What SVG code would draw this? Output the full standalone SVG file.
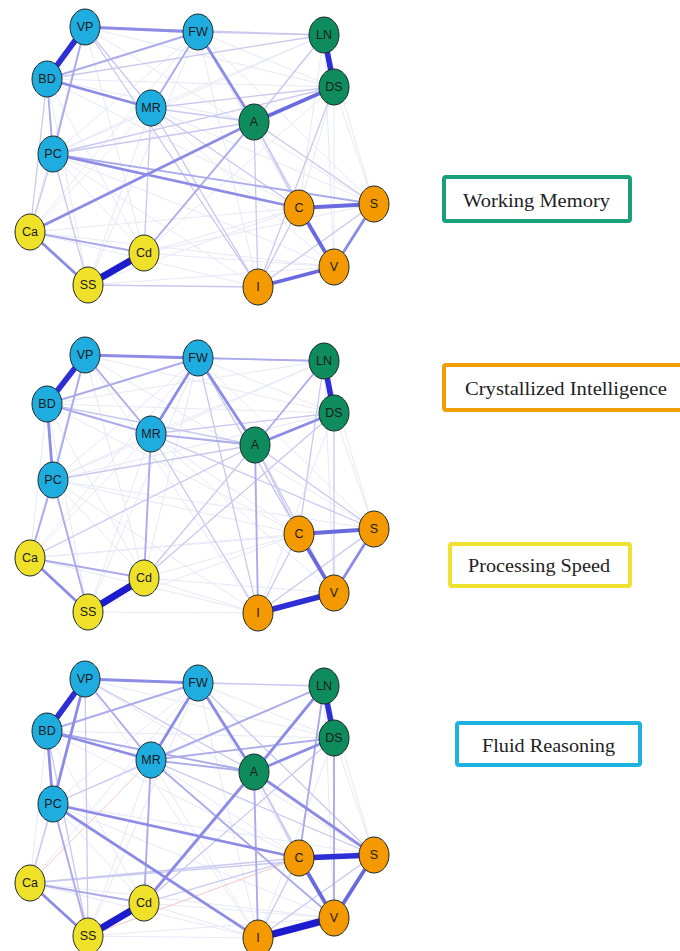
<svg xmlns="http://www.w3.org/2000/svg" width="680" height="951" viewBox="0 0 680 951">
<style>
  line { fill: none; stroke-linecap: round; }
  .e1 { stroke: #E8E8F8; stroke-width: 1; }
  .e2 { stroke: #C8C8F1; stroke-width: 1.3; }
  .e3 { stroke: #ABABEB; stroke-width: 1.9; }
  .e4 { stroke: #8C8CE6; stroke-width: 2.8; }
  .e5 { stroke: #6A6AE0; stroke-width: 3.8; }
  .e6 { stroke: #2E2ED6; stroke-width: 5.6; }
  .e7 { stroke: #1C1CCE; stroke-width: 7; }
  .r1 { stroke: #F2C9C2; stroke-width: 1; }
  .n ellipse { stroke: #1c2a2a; stroke-width: 1; }
  .fl ellipse { fill: #1FADE0; }
  .wm ellipse { fill: #0F8C5E; }
  .ci ellipse { fill: #F49A00; }
  .ps ellipse { fill: #EFE02A; }
  .n text { font-family: "Liberation Sans", Arial, sans-serif; font-size: 12.5px; fill: #1a1a1a; text-anchor: middle; }
  .leg rect { fill: #ffffff; stroke-width: 4; }
  .leg text { font-family: "Liberation Serif", "DejaVu Serif", serif; font-size: 19px; fill: #222222; }
</style>

<rect width="680" height="951" fill="#ffffff"/>

<!-- connectors, network 1 -->
<g id="edges-1">
  <line class="e1" x1="85" y1="27" x2="334" y2="87"/>
  <line class="e1" x1="85" y1="27" x2="374" y2="204"/>
  <line class="e1" x1="85" y1="27" x2="144" y2="253"/>
  <line class="e1" x1="85" y1="27" x2="30" y2="232"/>
  <line class="e1" x1="198" y1="32" x2="334" y2="87"/>
  <line class="e1" x1="198" y1="32" x2="53" y2="154"/>
  <line class="e1" x1="198" y1="32" x2="299" y2="208"/>
  <line class="e1" x1="198" y1="32" x2="374" y2="204"/>
  <line class="e1" x1="198" y1="32" x2="334" y2="267"/>
  <line class="e1" x1="198" y1="32" x2="258" y2="287"/>
  <line class="e1" x1="198" y1="32" x2="88" y2="285"/>
  <line class="e1" x1="198" y1="32" x2="30" y2="232"/>
  <line class="e1" x1="324" y1="35" x2="151" y2="108"/>
  <line class="e1" x1="324" y1="35" x2="53" y2="154"/>
  <line class="e1" x1="324" y1="35" x2="299" y2="208"/>
  <line class="e1" x1="324" y1="35" x2="374" y2="204"/>
  <line class="e1" x1="324" y1="35" x2="334" y2="267"/>
  <line class="e1" x1="324" y1="35" x2="144" y2="253"/>
  <line class="e1" x1="47" y1="79" x2="254" y2="122"/>
  <line class="e1" x1="47" y1="79" x2="334" y2="87"/>
  <line class="e1" x1="47" y1="79" x2="88" y2="285"/>
  <line class="e1" x1="47" y1="79" x2="144" y2="253"/>
  <line class="e1" x1="47" y1="79" x2="299" y2="208"/>
  <line class="e1" x1="334" y1="87" x2="299" y2="208"/>
  <line class="e1" x1="334" y1="87" x2="374" y2="204"/>
  <line class="e1" x1="334" y1="87" x2="334" y2="267"/>
  <line class="e1" x1="334" y1="87" x2="144" y2="253"/>
  <line class="e1" x1="151" y1="108" x2="53" y2="154"/>
  <line class="e1" x1="151" y1="108" x2="374" y2="204"/>
  <line class="e1" x1="151" y1="108" x2="334" y2="267"/>
  <line class="e1" x1="151" y1="108" x2="88" y2="285"/>
  <line class="e1" x1="151" y1="108" x2="30" y2="232"/>
  <line class="e1" x1="53" y1="154" x2="144" y2="253"/>
  <line class="e1" x1="53" y1="154" x2="334" y2="267"/>
  <line class="e1" x1="53" y1="154" x2="258" y2="287"/>
  <line class="e1" x1="30" y1="232" x2="258" y2="287"/>
  <line class="e1" x1="30" y1="232" x2="299" y2="208"/>
  <line class="e1" x1="30" y1="232" x2="334" y2="267"/>
  <line class="e1" x1="144" y1="253" x2="299" y2="208"/>
  <line class="e1" x1="144" y1="253" x2="334" y2="267"/>
  <line class="e1" x1="144" y1="253" x2="374" y2="204"/>
  <line class="e1" x1="88" y1="285" x2="299" y2="208"/>
  <line class="e1" x1="88" y1="285" x2="334" y2="267"/>

  <line class="e2" x1="85" y1="27" x2="151" y2="108"/>
  <line class="e2" x1="47" y1="79" x2="324" y2="35"/>
  <line class="e2" x1="151" y1="108" x2="254" y2="122"/>
  <line class="e2" x1="254" y1="122" x2="324" y2="35"/>
  <line class="e2" x1="254" y1="122" x2="374" y2="204"/>
  <line class="e2" x1="254" y1="122" x2="258" y2="287"/>
  <line class="e2" x1="254" y1="122" x2="299" y2="208"/>
  <line class="e2" x1="254" y1="122" x2="334" y2="267"/>
  <line class="e2" x1="258" y1="287" x2="374" y2="204"/>
  <line class="e2" x1="258" y1="287" x2="299" y2="208"/>
  <line class="e2" x1="151" y1="108" x2="334" y2="87"/>
  <line class="e2" x1="151" y1="108" x2="144" y2="253"/>
  <line class="e2" x1="53" y1="154" x2="30" y2="232"/>
  <line class="e2" x1="53" y1="154" x2="88" y2="285"/>
  <line class="e2" x1="151" y1="108" x2="258" y2="287"/>
  <line class="e2" x1="198" y1="32" x2="324" y2="35"/>
  <line class="e2" x1="85" y1="27" x2="324" y2="35"/>
  <line class="e2" x1="53" y1="154" x2="254" y2="122"/>
  <line class="e2" x1="53" y1="154" x2="334" y2="87"/>
  <line class="e2" x1="88" y1="285" x2="258" y2="287"/>
  <line class="e2" x1="334" y1="87" x2="258" y2="287"/>
  <line class="e2" x1="85" y1="27" x2="258" y2="287"/>
  <line class="e2" x1="151" y1="108" x2="299" y2="208"/>
  <line class="e2" x1="47" y1="79" x2="30" y2="232"/>

  <line class="e3" x1="144" y1="253" x2="254" y2="122"/>
  <line class="e3" x1="53" y1="154" x2="374" y2="204"/>
  <line class="e3" x1="198" y1="32" x2="151" y2="108"/>
  <line class="e3" x1="47" y1="79" x2="53" y2="154"/>
  <line class="e3" x1="85" y1="27" x2="53" y2="154"/>
  <line class="e3" x1="30" y1="232" x2="144" y2="253"/>
  <line class="e3" x1="47" y1="79" x2="198" y2="32"/>

  <line class="e4" x1="198" y1="32" x2="254" y2="122"/>
  <line class="e4" x1="374" y1="204" x2="334" y2="267"/>
  <line class="e4" x1="30" y1="232" x2="254" y2="122"/>
  <line class="e4" x1="47" y1="79" x2="151" y2="108"/>
  <line class="e4" x1="30" y1="232" x2="88" y2="285"/>
  <line class="e4" x1="85" y1="27" x2="198" y2="32"/>
  <line class="e4" x1="53" y1="154" x2="299" y2="208"/>

  <line class="e5" x1="254" y1="122" x2="334" y2="87"/>
  <line class="e5" x1="299" y1="208" x2="374" y2="204"/>
  <line class="e5" x1="299" y1="208" x2="334" y2="267"/>
  <line class="e5" x1="258" y1="287" x2="334" y2="267"/>

  <line class="e6" x1="85" y1="27" x2="47" y2="79"/>
  <line class="e6" x1="324" y1="35" x2="334" y2="87"/>
  <line class="e7" x1="88" y1="285" x2="144" y2="253"/>
</g>

<!-- connectors, network 2 -->
<g id="edges-2">
  <line class="e1" x1="85" y1="355" x2="334" y2="413"/>
  <line class="e1" x1="85" y1="355" x2="374" y2="529"/>
  <line class="e1" x1="85" y1="355" x2="144" y2="578"/>
  <line class="e1" x1="85" y1="355" x2="30" y2="558"/>
  <line class="e1" x1="85" y1="355" x2="258" y2="613"/>
  <line class="e1" x1="198" y1="358" x2="334" y2="413"/>
  <line class="e1" x1="198" y1="358" x2="53" y2="480"/>
  <line class="e1" x1="198" y1="358" x2="299" y2="534"/>
  <line class="e1" x1="198" y1="358" x2="374" y2="529"/>
  <line class="e1" x1="198" y1="358" x2="88" y2="612"/>
  <line class="e1" x1="198" y1="358" x2="30" y2="558"/>
  <line class="e1" x1="198" y1="358" x2="144" y2="578"/>
  <line class="e1" x1="324" y1="361" x2="151" y2="434"/>
  <line class="e1" x1="324" y1="361" x2="53" y2="480"/>
  <line class="e1" x1="324" y1="361" x2="374" y2="529"/>
  <line class="e1" x1="324" y1="361" x2="334" y2="593"/>
  <line class="e1" x1="324" y1="361" x2="47" y2="404"/>
  <line class="e1" x1="47" y1="404" x2="334" y2="413"/>
  <line class="e1" x1="47" y1="404" x2="30" y2="558"/>
  <line class="e1" x1="47" y1="404" x2="88" y2="612"/>
  <line class="e1" x1="47" y1="404" x2="144" y2="578"/>
  <line class="e1" x1="47" y1="404" x2="299" y2="534"/>
  <line class="e1" x1="334" y1="413" x2="374" y2="529"/>
  <line class="e1" x1="334" y1="413" x2="258" y2="613"/>
  <line class="e1" x1="334" y1="413" x2="53" y2="480"/>
  <line class="e1" x1="151" y1="434" x2="53" y2="480"/>
  <line class="e1" x1="151" y1="434" x2="334" y2="593"/>
  <line class="e1" x1="151" y1="434" x2="88" y2="612"/>
  <line class="e1" x1="151" y1="434" x2="30" y2="558"/>
  <line class="e1" x1="151" y1="434" x2="299" y2="534"/>
  <line class="e1" x1="53" y1="480" x2="144" y2="578"/>
  <line class="e1" x1="53" y1="480" x2="299" y2="534"/>
  <line class="e1" x1="53" y1="480" x2="374" y2="529"/>
  <line class="e1" x1="53" y1="480" x2="258" y2="613"/>
  <line class="e1" x1="30" y1="558" x2="258" y2="613"/>
  <line class="e1" x1="30" y1="558" x2="299" y2="534"/>
  <line class="e1" x1="30" y1="558" x2="374" y2="529"/>
  <line class="e1" x1="144" y1="578" x2="299" y2="534"/>
  <line class="e1" x1="144" y1="578" x2="334" y2="593"/>
  <line class="e1" x1="88" y1="612" x2="258" y2="613"/>
  <line class="e1" x1="88" y1="612" x2="299" y2="534"/>
  <line class="e1" x1="144" y1="578" x2="258" y2="613"/>

  <line class="e2" x1="47" y1="404" x2="255" y2="445"/>
  <line class="e2" x1="151" y1="434" x2="374" y2="529"/>
  <line class="e2" x1="151" y1="434" x2="258" y2="613"/>
  <line class="e2" x1="255" y1="445" x2="374" y2="529"/>
  <line class="e2" x1="255" y1="445" x2="299" y2="534"/>
  <line class="e2" x1="144" y1="578" x2="334" y2="413"/>
  <line class="e2" x1="144" y1="578" x2="255" y2="445"/>
  <line class="e2" x1="53" y1="480" x2="255" y2="445"/>
  <line class="e2" x1="198" y1="358" x2="258" y2="613"/>
  <line class="e2" x1="299" y1="534" x2="258" y2="613"/>
  <line class="e2" x1="374" y1="529" x2="258" y2="613"/>
  <line class="e2" x1="324" y1="361" x2="299" y2="534"/>
  <line class="e2" x1="334" y1="413" x2="334" y2="593"/>
  <line class="e2" x1="151" y1="434" x2="334" y2="413"/>
  <line class="e2" x1="198" y1="358" x2="334" y2="593"/>
  <line class="e2" x1="30" y1="558" x2="255" y2="445"/>
  <line class="e2" x1="255" y1="445" x2="334" y2="593"/>
  <line class="e2" x1="85" y1="355" x2="324" y2="361"/>

  <line class="e3" x1="255" y1="445" x2="324" y2="361"/>
  <line class="e3" x1="30" y1="558" x2="144" y2="578"/>
  <line class="e3" x1="53" y1="480" x2="88" y2="612"/>
  <line class="e3" x1="53" y1="480" x2="30" y2="558"/>
  <line class="e3" x1="85" y1="355" x2="53" y2="480"/>
  <line class="e3" x1="47" y1="404" x2="151" y2="434"/>
  <line class="e3" x1="85" y1="355" x2="151" y2="434"/>
  <line class="e3" x1="151" y1="434" x2="255" y2="445"/>
  <line class="e3" x1="47" y1="404" x2="198" y2="358"/>
  <line class="e3" x1="151" y1="434" x2="144" y2="578"/>
  <line class="e3" x1="255" y1="445" x2="258" y2="613"/>
  <line class="e3" x1="198" y1="358" x2="324" y2="361"/>

  <line class="e4" x1="374" y1="529" x2="334" y2="593"/>
  <line class="e4" x1="85" y1="355" x2="198" y2="358"/>
  <line class="e4" x1="198" y1="358" x2="151" y2="434"/>
  <line class="e4" x1="198" y1="358" x2="255" y2="445"/>
  <line class="e4" x1="255" y1="445" x2="334" y2="413"/>
  <line class="e4" x1="30" y1="558" x2="88" y2="612"/>
  <line class="e4" x1="47" y1="404" x2="53" y2="480"/>

  <line class="e5" x1="299" y1="534" x2="374" y2="529"/>
  <line class="e5" x1="299" y1="534" x2="334" y2="593"/>

  <line class="e6" x1="85" y1="355" x2="47" y2="404"/>
  <line class="e6" x1="324" y1="361" x2="334" y2="413"/>
  <line class="e6" x1="258" y1="613" x2="334" y2="593"/>
  <line class="e7" x1="88" y1="612" x2="144" y2="578"/>
</g>

<!-- connectors, network 3 -->
<g id="edges-3">
  <line class="e1" x1="85" y1="679" x2="334" y2="738"/>
  <line class="e1" x1="85" y1="679" x2="374" y2="855"/>
  <line class="e1" x1="85" y1="679" x2="30" y2="883"/>
  <line class="e1" x1="85" y1="679" x2="258" y2="938"/>
  <line class="e1" x1="198" y1="683" x2="334" y2="738"/>
  <line class="e1" x1="198" y1="683" x2="53" y2="804"/>
  <line class="e1" x1="198" y1="683" x2="299" y2="858"/>
  <line class="e1" x1="198" y1="683" x2="88" y2="936"/>
  <line class="e1" x1="198" y1="683" x2="30" y2="883"/>
  <line class="e1" x1="198" y1="683" x2="258" y2="938"/>
  <line class="e1" x1="324" y1="686" x2="374" y2="855"/>
  <line class="e1" x1="324" y1="686" x2="334" y2="918"/>
  <line class="e1" x1="324" y1="686" x2="85" y2="679"/>
  <line class="e1" x1="47" y1="731" x2="334" y2="738"/>
  <line class="e1" x1="47" y1="731" x2="30" y2="883"/>
  <line class="e1" x1="47" y1="731" x2="144" y2="903"/>
  <line class="e1" x1="47" y1="731" x2="299" y2="858"/>
  <line class="e1" x1="334" y1="738" x2="374" y2="855"/>
  <line class="e1" x1="334" y1="738" x2="258" y2="938"/>
  <line class="e1" x1="151" y1="760" x2="53" y2="804"/>
  <line class="e1" x1="151" y1="760" x2="88" y2="936"/>
  <line class="e1" x1="151" y1="760" x2="258" y2="938"/>
  <line class="e1" x1="151" y1="760" x2="299" y2="858"/>
  <line class="e1" x1="53" y1="804" x2="144" y2="903"/>
  <line class="e1" x1="53" y1="804" x2="374" y2="855"/>
  <line class="e1" x1="53" y1="804" x2="334" y2="918"/>
  <line class="e1" x1="30" y1="883" x2="258" y2="938"/>
  <line class="e1" x1="30" y1="883" x2="334" y2="918"/>
  <line class="e1" x1="144" y1="903" x2="334" y2="918"/>
  <line class="e1" x1="144" y1="903" x2="258" y2="938"/>
  <line class="e1" x1="88" y1="936" x2="258" y2="938"/>
  <line class="e1" x1="88" y1="936" x2="334" y2="918"/>

  <line class="r1" x1="30" y1="883" x2="151" y2="760"/>
  <line class="r1" x1="88" y1="936" x2="299" y2="858"/>

  <line class="e2" x1="85" y1="679" x2="88" y2="936"/>
  <line class="e2" x1="53" y1="804" x2="30" y2="883"/>
  <line class="e2" x1="30" y1="883" x2="299" y2="858"/>
  <line class="e2" x1="144" y1="903" x2="299" y2="858"/>
  <line class="e2" x1="144" y1="903" x2="334" y2="738"/>
  <line class="e2" x1="299" y1="858" x2="258" y2="938"/>
  <line class="e2" x1="374" y1="855" x2="258" y2="938"/>
  <line class="e2" x1="198" y1="683" x2="374" y2="855"/>
  <line class="e2" x1="254" y1="772" x2="334" y2="918"/>
  <line class="e2" x1="198" y1="683" x2="324" y2="686"/>
  <line class="e2" x1="85" y1="679" x2="254" y2="772"/>
  <line class="e2" x1="151" y1="760" x2="374" y2="855"/>
  <line class="e2" x1="30" y1="883" x2="374" y2="855"/>
  <line class="e2" x1="47" y1="731" x2="88" y2="936"/>
  <line class="e2" x1="144" y1="903" x2="324" y2="686"/>
  <line class="e2" x1="53" y1="804" x2="324" y2="686"/>
  <line class="e2" x1="254" y1="772" x2="299" y2="858"/>

  <line class="e3" x1="30" y1="883" x2="144" y2="903"/>
  <line class="e3" x1="151" y1="760" x2="144" y2="903"/>
  <line class="e3" x1="254" y1="772" x2="258" y2="938"/>
  <line class="e3" x1="151" y1="760" x2="324" y2="686"/>
  <line class="e3" x1="151" y1="760" x2="334" y2="738"/>
  <line class="e3" x1="151" y1="760" x2="334" y2="918"/>
  <line class="e3" x1="47" y1="731" x2="198" y2="683"/>
  <line class="e3" x1="324" y1="686" x2="299" y2="858"/>
  <line class="e3" x1="334" y1="738" x2="334" y2="918"/>
  <line class="e3" x1="85" y1="679" x2="151" y2="760"/>
  <line class="e3" x1="151" y1="760" x2="254" y2="772"/>
  <line class="e3" x1="53" y1="804" x2="88" y2="936"/>
  <line class="e3" x1="47" y1="731" x2="254" y2="772"/>

  <line class="e4" x1="85" y1="679" x2="198" y2="683"/>
  <line class="e4" x1="198" y1="683" x2="151" y2="760"/>
  <line class="e4" x1="198" y1="683" x2="254" y2="772"/>
  <line class="e4" x1="47" y1="731" x2="151" y2="760"/>
  <line class="e4" x1="254" y1="772" x2="334" y2="738"/>
  <line class="e4" x1="254" y1="772" x2="324" y2="686"/>
  <line class="e4" x1="144" y1="903" x2="254" y2="772"/>
  <line class="e4" x1="30" y1="883" x2="88" y2="936"/>
  <line class="e4" x1="85" y1="679" x2="53" y2="804"/>
  <line class="e4" x1="47" y1="731" x2="53" y2="804"/>
  <line class="e4" x1="53" y1="804" x2="258" y2="938"/>
  <line class="e4" x1="254" y1="772" x2="374" y2="855"/>
  <line class="e4" x1="53" y1="804" x2="299" y2="858"/>

  <line class="e5" x1="299" y1="858" x2="334" y2="918"/>
  <line class="e5" x1="374" y1="855" x2="334" y2="918"/>

  <line class="e6" x1="324" y1="686" x2="334" y2="738"/>
  <line class="e6" x1="85" y1="679" x2="47" y2="731"/>
  <line class="e6" x1="299" y1="858" x2="374" y2="855"/>
  <line class="e7" x1="88" y1="936" x2="144" y2="903"/>
  <line class="e7" x1="258" y1="938" x2="334" y2="918"/>
</g>

<!-- nodes, network 1 -->
<g id="n1-VP" class="n fl"><ellipse cx="85" cy="27" rx="15" ry="18"/><text x="85" y="31">VP</text></g>
<g id="n1-FW" class="n fl"><ellipse cx="198" cy="32" rx="15" ry="18"/><text x="198" y="36">FW</text></g>
<g id="n1-LN" class="n wm"><ellipse cx="324" cy="35" rx="15" ry="18"/><text x="324" y="39">LN</text></g>
<g id="n1-BD" class="n fl"><ellipse cx="47" cy="79" rx="15" ry="18"/><text x="47" y="83">BD</text></g>
<g id="n1-DS" class="n wm"><ellipse cx="334" cy="87" rx="15" ry="18"/><text x="334" y="91">DS</text></g>
<g id="n1-MR" class="n fl"><ellipse cx="151" cy="108" rx="15" ry="18"/><text x="151" y="112">MR</text></g>
<g id="n1-A" class="n wm"><ellipse cx="254" cy="122" rx="15" ry="18"/><text x="254" y="126">A</text></g>
<g id="n1-PC" class="n fl"><ellipse cx="53" cy="154" rx="15" ry="18"/><text x="53" y="158">PC</text></g>
<g id="n1-C" class="n ci"><ellipse cx="299" cy="208" rx="15" ry="18"/><text x="299" y="212">C</text></g>
<g id="n1-S" class="n ci"><ellipse cx="374" cy="204" rx="15" ry="18"/><text x="374" y="208">S</text></g>
<g id="n1-Ca" class="n ps"><ellipse cx="30" cy="232" rx="15" ry="18"/><text x="30" y="236">Ca</text></g>
<g id="n1-Cd" class="n ps"><ellipse cx="144" cy="253" rx="15" ry="18"/><text x="144" y="257">Cd</text></g>
<g id="n1-V" class="n ci"><ellipse cx="334" cy="267" rx="15" ry="18"/><text x="334" y="271">V</text></g>
<g id="n1-SS" class="n ps"><ellipse cx="88" cy="285" rx="15" ry="18"/><text x="88" y="289">SS</text></g>
<g id="n1-I" class="n ci"><ellipse cx="258" cy="287" rx="15" ry="18"/><text x="258" y="291">I</text></g>

<!-- nodes, network 2 -->
<g id="n2-VP" class="n fl"><ellipse cx="85" cy="355" rx="15" ry="18"/><text x="85" y="359">VP</text></g>
<g id="n2-FW" class="n fl"><ellipse cx="198" cy="358" rx="15" ry="18"/><text x="198" y="362">FW</text></g>
<g id="n2-LN" class="n wm"><ellipse cx="324" cy="361" rx="15" ry="18"/><text x="324" y="365">LN</text></g>
<g id="n2-BD" class="n fl"><ellipse cx="47" cy="404" rx="15" ry="18"/><text x="47" y="408">BD</text></g>
<g id="n2-DS" class="n wm"><ellipse cx="334" cy="413" rx="15" ry="18"/><text x="334" y="417">DS</text></g>
<g id="n2-MR" class="n fl"><ellipse cx="151" cy="434" rx="15" ry="18"/><text x="151" y="438">MR</text></g>
<g id="n2-A" class="n wm"><ellipse cx="255" cy="445" rx="15" ry="18"/><text x="255" y="449">A</text></g>
<g id="n2-PC" class="n fl"><ellipse cx="53" cy="480" rx="15" ry="18"/><text x="53" y="484">PC</text></g>
<g id="n2-C" class="n ci"><ellipse cx="299" cy="534" rx="15" ry="18"/><text x="299" y="538">C</text></g>
<g id="n2-S" class="n ci"><ellipse cx="374" cy="529" rx="15" ry="18"/><text x="374" y="533">S</text></g>
<g id="n2-Ca" class="n ps"><ellipse cx="30" cy="558" rx="15" ry="18"/><text x="30" y="562">Ca</text></g>
<g id="n2-Cd" class="n ps"><ellipse cx="144" cy="578" rx="15" ry="18"/><text x="144" y="582">Cd</text></g>
<g id="n2-V" class="n ci"><ellipse cx="334" cy="593" rx="15" ry="18"/><text x="334" y="597">V</text></g>
<g id="n2-SS" class="n ps"><ellipse cx="88" cy="612" rx="15" ry="18"/><text x="88" y="616">SS</text></g>
<g id="n2-I" class="n ci"><ellipse cx="258" cy="613" rx="15" ry="18"/><text x="258" y="617">I</text></g>

<!-- nodes, network 3 -->
<g id="n3-VP" class="n fl"><ellipse cx="85" cy="679" rx="15" ry="18"/><text x="85" y="683">VP</text></g>
<g id="n3-FW" class="n fl"><ellipse cx="198" cy="683" rx="15" ry="18"/><text x="198" y="687">FW</text></g>
<g id="n3-LN" class="n wm"><ellipse cx="324" cy="686" rx="15" ry="18"/><text x="324" y="690">LN</text></g>
<g id="n3-BD" class="n fl"><ellipse cx="47" cy="731" rx="15" ry="18"/><text x="47" y="735">BD</text></g>
<g id="n3-DS" class="n wm"><ellipse cx="334" cy="738" rx="15" ry="18"/><text x="334" y="742">DS</text></g>
<g id="n3-MR" class="n fl"><ellipse cx="151" cy="760" rx="15" ry="18"/><text x="151" y="764">MR</text></g>
<g id="n3-A" class="n wm"><ellipse cx="254" cy="772" rx="15" ry="18"/><text x="254" y="776">A</text></g>
<g id="n3-PC" class="n fl"><ellipse cx="53" cy="804" rx="15" ry="18"/><text x="53" y="808">PC</text></g>
<g id="n3-C" class="n ci"><ellipse cx="299" cy="858" rx="15" ry="18"/><text x="299" y="862">C</text></g>
<g id="n3-S" class="n ci"><ellipse cx="374" cy="855" rx="15" ry="18"/><text x="374" y="859">S</text></g>
<g id="n3-Ca" class="n ps"><ellipse cx="30" cy="883" rx="15" ry="18"/><text x="30" y="887">Ca</text></g>
<g id="n3-Cd" class="n ps"><ellipse cx="144" cy="903" rx="15" ry="18"/><text x="144" y="907">Cd</text></g>
<g id="n3-V" class="n ci"><ellipse cx="334" cy="918" rx="15" ry="18"/><text x="334" y="922">V</text></g>
<g id="n3-SS" class="n ps"><ellipse cx="88" cy="936" rx="15" ry="18"/><text x="88" y="940">SS</text></g>
<g id="n3-I" class="n ci"><ellipse cx="258" cy="938" rx="15" ry="18"/><text x="258" y="942">I</text></g>

<!-- legend -->
<g id="legend-wm" class="leg"><rect x="444" y="177" width="186" height="44" rx="2" stroke="#17A07A"/><text x="463" y="207" textLength="147" lengthAdjust="spacingAndGlyphs">Working Memory</text></g>
<g id="legend-ci" class="leg"><rect x="444" y="365" width="250" height="45" rx="2" stroke="#F29F05"/><text x="465" y="395" textLength="202" lengthAdjust="spacingAndGlyphs">Crystallized Intelligence</text></g>
<g id="legend-ps" class="leg"><rect x="450" y="544" width="180" height="42" rx="2" stroke="#EEE130"/><text x="468" y="572" textLength="142" lengthAdjust="spacingAndGlyphs">Processing Speed</text></g>
<g id="legend-fr" class="leg"><rect x="457" y="723" width="183" height="42" rx="2" stroke="#1DB3E0"/><text x="482" y="752" textLength="133" lengthAdjust="spacingAndGlyphs">Fluid Reasoning</text></g>
</svg>
